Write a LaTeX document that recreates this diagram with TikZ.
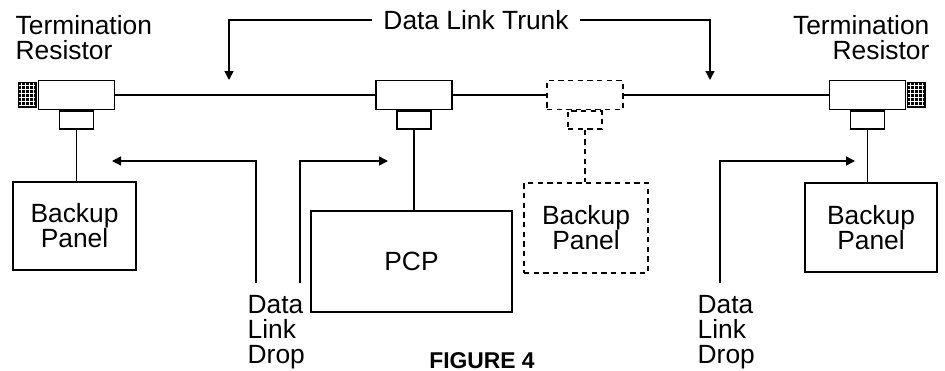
\documentclass[tikz,border=0pt]{standalone}
\usepackage{fontspec}
\setmainfont{Liberation Sans}
\usetikzlibrary{arrows.meta, positioning}

\begin{document}
\begin{tikzpicture}[x=0.02cm, y=-0.02cm, line width=0.8pt,
  every node/.style={font=\fontsize{15}{14.2}\selectfont},
  tee/.style={rectangle, draw, minimum width=1.52cm, minimum height=0.58cm, inner sep=0pt},
  stub/.style={rectangle, draw, minimum width=0.68cm, minimum height=0.36cm, inner sep=0pt},
  panel/.style={rectangle, draw, align=center, inner sep=0pt},
  resistor/.style={rectangle, fill=black, minimum width=0.38cm, minimum height=0.52cm, inner sep=0pt},
  ghost/.style={dash pattern=on 3pt off 2.5pt},
  pointer/.style={-{Triangle[length=0.18cm, width=0.18cm]}},
  lbl/.style={align=left, inner sep=0pt},
]
\useasboundingbox (0,0) rectangle (945,371);
% taps on the trunk
\node[tee] (teeL) at (76.5,95) {};
\node[stub, anchor=north] (stubL) at (teeL.south) {};
\node[resistor, anchor=east] (resL) at (teeL.west) {};
\node[tee] (teeC) at (414,95) {};
\node[stub, anchor=north] (stubC) at (teeC.south) {};
\node[tee, ghost] (teeD) at (585,95) {};
\node[stub, ghost, anchor=north] (stubD) at (teeD.south) {};
\node[tee] (teeR) at (867.5,95) {};
\node[stub, anchor=north] (stubR) at (teeR.south) {};
\node[resistor, anchor=west] (resR) at (teeR.east) {};
% mesh on the resistors
\foreach \r in {resL,resR}
  \draw[white, line width=0.6pt, shift={(\r.north west)}, step=0.08cm] (0.03cm,-0.03cm) grid (0.35cm,-0.49cm);
% panels
\node[panel, minimum width=2.46cm, minimum height=1.76cm] (panelL) at (74.5,226) {Backup\\Panel};
\node[panel, minimum width=4.02cm, minimum height=2.02cm] (pcp) at (411.5,261.5) {PCP};
\node[panel, ghost, minimum width=2.48cm, minimum height=1.8cm] (panelD) at (586,228) {Backup\\Panel};
\node[panel, minimum width=2.64cm, minimum height=1.78cm] (panelR) at (871,227.5) {Backup\\Panel};
% trunk and drops
\draw (teeL.east) -- (teeC.west);
\draw (teeC.east) -- (teeD.west);
\draw (teeD.east) -- (teeR.west);
\draw (stubL.south) -- (stubL.south |- panelL.north);
\draw (stubC.south) -- (stubC.south |- pcp.north);
\draw[ghost] (stubD.south) -- (stubD.south |- panelD.north);
\draw (stubR.south) -- (stubR.south |- panelR.north);
% labels
\node[lbl, anchor=north west] (termL) at (15,15) {Termination\\Resistor};
\node[lbl, align=right, anchor=north east] (termR) at (930,15) {Termination\\Resistor};
\node[inner xsep=0.22cm] (trunk) at (476,20) {Data Link Trunk};
\coordinate (trunkA) at (229,80);
\coordinate (trunkB) at (710,80);
\draw[pointer] (trunk.west) -| (trunkA);
\draw[pointer] (trunk.east) -| (trunkB);
\node[lbl, anchor=north west] (dropTxtL) at (247,295) {Data\\Link\\Drop};
\node[lbl, anchor=north west] (dropTxtR) at (697,295) {Data\\Link\\Drop};
\coordinate (dropA) at (256,283);
\coordinate (tipA) at (112,161);
\coordinate (dropB) at (300,283);
\coordinate (tipB) at (388,161);
\coordinate (dropC) at (720,283);
\coordinate (tipC) at (855,161);
\draw[pointer] (dropA) |- (tipA);
\draw[pointer] (dropB) |- (tipB);
\draw[pointer] (dropC) |- (tipC);
\node[font=\bfseries\fontsize{13}{13}\selectfont, inner sep=0pt, anchor=base] (fig) at (482,368) {FIGURE 4};
\end{tikzpicture}
\end{document}
